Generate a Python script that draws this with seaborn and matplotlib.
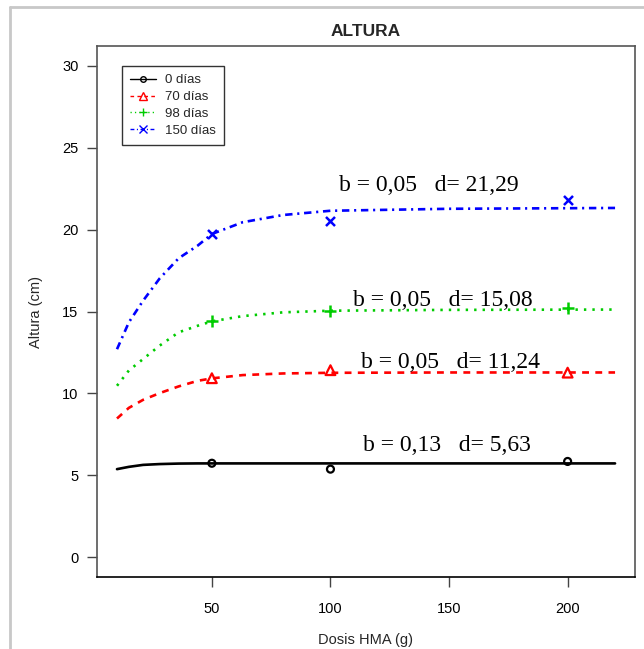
import matplotlib
matplotlib.use("Agg")
import matplotlib.pyplot as plt
from matplotlib.lines import Line2D
import numpy as np
import pandas as pd
import seaborn as sns

# Observed mean heights per dose
doses = [50, 100, 200]
obs_0 = [5.74, 5.38, 5.85]
obs_70 = [10.93, 11.42, 11.27]
obs_98 = [14.40, 15.01, 15.20]
obs_150 = [19.73, 20.55, 21.80]

# Fitted response curves (dose grid and fitted heights)
curve_x = [10, 15, 21, 28, 36, 44, 50, 63, 80, 100, 150, 220]
fit_0 = [5.38, 5.52, 5.64, 5.69, 5.72, 5.73, 5.73, 5.73, 5.73, 5.73, 5.73, 5.73]
fit_70 = [8.47, 9.12, 9.61, 10.02, 10.43, 10.77, 10.92, 11.12, 11.22, 11.26, 11.28, 11.28]
fit_98 = [10.47, 11.40, 12.10, 12.92, 13.73, 14.13, 14.40, 14.72, 14.95, 15.05, 15.10, 15.12]
fit_150 = [12.70, 14.34, 15.66, 17.02, 18.25, 19.02, 19.73, 20.45, 20.89, 21.15, 21.27, 21.32]

# Model parameters shown as labels
b_vals = ["0,13", "0,05", "0,05", "0,05"]
d_vals = ["5,63", "11,24", "15,08", "21,29"]
label_x = [149.0, 150.5, 147.5, 141.5]
label_y = [6.8, 11.9, 15.7, 22.7]

series = ["0 días", "70 días", "98 días", "150 días"]
colors = ["black", "red", "#00cc00", "blue"]
markers = ["o", "^", "+", "x"]
msizes = [5, 7, 8, 6.5]
dashes = [(None, None), (2.6, 2.4), (0.9, 2.3), (2.8, 1.8, 0.8, 1.8)]

obs = [obs_0, obs_70, obs_98, obs_150]
fits = [fit_0, fit_70, fit_98, fit_150]

sns.set_theme(style="white")
plt.rcParams["font.family"] = ["Liberation Sans", "DejaVu Sans"]

fig = plt.figure(figsize=(6.44, 6.49), dpi=100)
ax = fig.add_axes([0.150, 0.111, 0.836, 0.818])

for name, col, mk, ms, ds, ob, ft in zip(series, colors, markers, msizes, dashes, obs, fits):
    df_fit = pd.DataFrame({"dosis": curve_x, "altura": ft})
    sns.lineplot(data=df_fit, x="dosis", y="altura", color=col, linewidth=1.9,
                 ax=ax, legend=False, sort=True)
    ln = ax.lines[-1]
    if ds[0] is not None:
        ln.set_dashes(ds)
    df_obs = pd.DataFrame({"dosis": doses, "altura": ob})
    if mk in ("o", "^"):
        sns.scatterplot(data=df_obs, x="dosis", y="altura", marker=mk, s=ms ** 2,
                        facecolors="none", edgecolors=col, linewidth=1.6, ax=ax,
                        legend=False, zorder=3)
    else:
        sns.scatterplot(data=df_obs, x="dosis", y="altura", marker=mk, s=ms ** 2,
                        color=col, linewidth=1.8, ax=ax, legend=False, zorder=3)

for b, d, x, y in zip(b_vals, d_vals, label_x, label_y):
    ax.text(x, y, f"b = {b}   d= {d}", ha="center", va="center",
            fontsize=17, family=["Liberation Serif", "DejaVu Serif"], color="black")

ax.set_xlim(1.4, 228.4)
ax.set_ylim(-1.2, 31.2)
ax.set_xticks([50, 100, 150, 200])
ax.set_yticks([0, 5, 10, 15, 20, 25, 30])
ax.tick_params(axis="both", direction="out", length=7, width=1, colors="#444444",
               labelcolor="black", labelsize=10.5, bottom=True, left=True)
ax.tick_params(axis="x", pad=11)
ax.tick_params(axis="y", pad=6)
for sp in ax.spines.values():
    sp.set_color("#555555")
    sp.set_linewidth(1.2)
ax.spines["bottom"].set_color("black")

ax.set_title("ALTURA", fontsize=12.5, fontweight="bold", pad=7)
ax.set_xlabel("Dosis HMA (g)", fontsize=10.5, labelpad=12)
ax.set_ylabel("Altura (cm)", fontsize=10.5, labelpad=14)

handles = []
for name, col, mk, ms, ds in zip(series, colors, markers, msizes, dashes):
    h = Line2D([0], [0], color=col, linewidth=1.0, marker=mk, markersize=ms * 0.8,
               markerfacecolor="none", markeredgecolor=col, markeredgewidth=1.0)
    if ds[0] is not None:
        h.set_dashes(ds)
    handles.append(h)
leg = ax.legend(handles, series, loc="upper left", bbox_to_anchor=(0.047, 0.962),
                borderaxespad=0, fontsize=9.5, frameon=True, fancybox=False,
                handlelength=2.0, labelspacing=0.35, borderpad=0.6, handletextpad=0.7)
leg.get_frame().set_edgecolor("black")
leg.get_frame().set_linewidth(1.0)

# Light frame around the figure
fig.add_artist(Line2D([10 / 644, 1.0], [1 - 7 / 649, 1 - 7 / 649], color="#c8c8c8",
                      linewidth=2, transform=fig.transFigure))
fig.add_artist(Line2D([10 / 644, 10 / 644], [0.0, 1 - 7 / 649], color="#c8c8c8",
                      linewidth=2, transform=fig.transFigure))

fig.savefig("out.png", dpi=100)
